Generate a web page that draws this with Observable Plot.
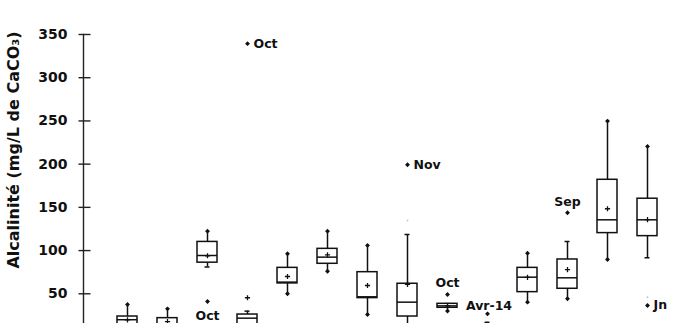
<!DOCTYPE html>
<html>
<head>
<meta charset="utf-8">
<script src="https://cdn.jsdelivr.net/npm/d3@7"></script>
<script src="https://cdn.jsdelivr.net/npm/@observablehq/plot@0.6"></script>
<style>
  html, body { margin: 0; padding: 0; background: #fff; }
  #chart { width: 680px; height: 323px; overflow: hidden; }
</style>
</head>
<body>
<div id="chart"></div>
<script>
// ---- data ----
const sites = ["S1","S2","S3","S4","S5","S6","S7","S8","S9","S10","S11","S12","S13","S14"];
const whiskerLow  = [8, 6, 81, 8, 50, 76, 26, 5, 30, 2, 40.3, 44.2, 89.7, 91.7];
const q1          = [12, 10, 86, 12, 62, 84.7, 45, 23.7, 33.8, 5, 51.9, 55.8, 120.2, 116.7];
const medians     = [20, 15, 94.3, 21.8, 63.5, 92.4, 46.5, 40.3, 36, 8, 69.2, 68.5, 135.6, 135.6];
const q3          = [23.7, 21.8, 110, 26, 80, 102, 75, 61.6, 38.4, 12, 80, 89.7, 181.9, 160];
const whiskerHigh = [37.6, 32.6, 122.5, 29.9, 96.3, 122.5, 106, 118.6, 38.6, 17, 97, 110.5, 249.8, 220.5];
const means       = [19.9, 17.9, 94, 45.4, 70, 95, 59.6, 61, 36, 7, 69, 78, 148.4, 135.8];

const outlierSites  = ["S3","S4","S8","S9","S10","S12","S14"];
const outlierValues = [41, 339.4, 199.3, 49.2, 26.8, 143.7, 36.5];
const outlierLabels = ["Oct","Oct","Nov","Oct","Avr-14","Sep","Jn"];

const faintSites  = ["S8","S14"];
const faintValues = [134.8, 46];

const yTicks = [50, 100, 150, 200, 250, 300, 350];
const yTitle = "Alcalinité (mg/L de CaCO₃)";

// ---- derived tables ----
const boxes = sites.map((s, i) => {
  const outs = outlierSites.map((o, j) => o === s ? outlierValues[j] : null).filter(v => v != null);
  return {
    site: s, lo: whiskerLow[i], q1: q1[i], med: medians[i], q3: q3[i], hi: whiskerHigh[i], mean: means[i],
    hiCapped: outs.some(v => v > whiskerHigh[i]),
    loCapped: outs.some(v => v < whiskerLow[i])
  };
});
const outliers = outlierSites.map((s, j) => ({site: s, value: outlierValues[j], label: outlierLabels[j]}));
const faint = faintSites.map((s, j) => ({site: s, value: faintValues[j]}));

const placement = (d) => {
  if (d.label === "Avr-14") return "aboveFar";
  if (d.site === "S3") return "below";
  if (d.site === "S9" || d.site === "S12") return "above";
  return "right";
};

const plusSym = {draw(ctx) { const r = 2.6; ctx.moveTo(-r, 0); ctx.lineTo(r, 0); ctx.moveTo(0, -r); ctx.lineTo(0, r); }};
const tickSym = {draw(ctx) { ctx.moveTo(-5, 0); ctx.lineTo(7, 0); }};

const ends = [
  ...boxes.map(b => ({site: b.site, v: b.hi, capped: b.hiCapped})),
  ...boxes.map(b => ({site: b.site, v: b.lo, capped: b.loCapped}))
];

const lblFont = {fontSize: 12.5, fontWeight: "bold", fill: "#111"};

const chart = Plot.plot({
  width: 680,
  height: 323,
  marginTop: 34,
  marginBottom: 0,
  marginLeft: 83,
  marginRight: 0,
  style: {fontFamily: "DejaVu Sans", background: "#fff"},
  x: {type: "band", domain: sites, range: [104.85, 669.15], paddingInner: 0.5, paddingOuter: 0.25, axis: null},
  y: {domain: [0, 350], range: [336.5, 34], axis: null},
  marks: [
    // y axis line + ticks + labels
    Plot.frame({anchor: "left", stroke: "#222", strokeWidth: 1.4}),
    Plot.dot(yTicks, {y: d => d, frameAnchor: "left", symbol: tickSym, stroke: "#222", strokeWidth: 1.4, fill: "none"}),
    Plot.text(yTicks, {y: d => d, text: d => String(d), frameAnchor: "left", dx: -16, textAnchor: "end",
      fontSize: 14, fontWeight: "bold", fill: "#111"}),
    Plot.text([yTitle], {x: null, y: null, frameAnchor: "left", text: d => d, rotate: -90, dx: -70, dy: -29,
      textAnchor: "middle", lineAnchor: "middle", fontSize: 16, fontWeight: "bold", fill: "#111"}),
    // whiskers
    Plot.ruleX(boxes, {x: "site", y1: "q3", y2: "hi", stroke: "#111", strokeWidth: 1.5, clip: true}),
    Plot.ruleX(boxes, {x: "site", y1: "lo", y2: "q1", stroke: "#111", strokeWidth: 1.5, clip: true}),
    // whisker ends: caps or diamonds
    Plot.tickY(ends.filter(d => d.capped), {x: "site", y: "v", insetLeft: 7.5, insetRight: 7.5, stroke: "#111", strokeWidth: 1.5, clip: true}),
    Plot.dot(ends.filter(d => !d.capped), {x: "site", y: "v", symbol: "diamond2", r: 2.2, fill: "#111", stroke: "none", clip: true}),
    // boxes
    Plot.barY(boxes, {x: "site", y1: "q1", y2: "q3", fill: "white", stroke: "#111", strokeWidth: 1.5, clip: true}),
    Plot.tickY(boxes, {x: "site", y: "med", stroke: "#111", strokeWidth: 1.5, clip: true}),
    Plot.dot(boxes, {x: "site", y: "mean", symbol: plusSym, stroke: "#111", strokeWidth: 1.3, fill: "none", clip: true}),
    // outliers
    Plot.dot(outliers, {x: "site", y: "value", symbol: "diamond2", r: 2.2, fill: "#111", stroke: "none"}),
    Plot.dot(faint, {x: "site", y: "value", r: 1, fill: "#c8c8c8", stroke: "none"}),
    Plot.text(outliers.filter(d => placement(d) === "right"), {x: "site", y: "value", text: "label", textAnchor: "start", dx: 6, ...lblFont}),
    Plot.text(outliers.filter(d => placement(d) === "above"), {x: "site", y: "value", text: "label", dy: -11, ...lblFont}),
    Plot.text(outliers.filter(d => placement(d) === "aboveFar"), {x: "site", y: "value", text: "label", dy: -8, dx: 1.5, ...lblFont}),
    Plot.text(outliers.filter(d => placement(d) === "below"), {x: "site", y: "value", text: "label", dy: 14, ...lblFont})
  ]
});
document.getElementById("chart").appendChild(chart);
</script>
</body>
</html>
